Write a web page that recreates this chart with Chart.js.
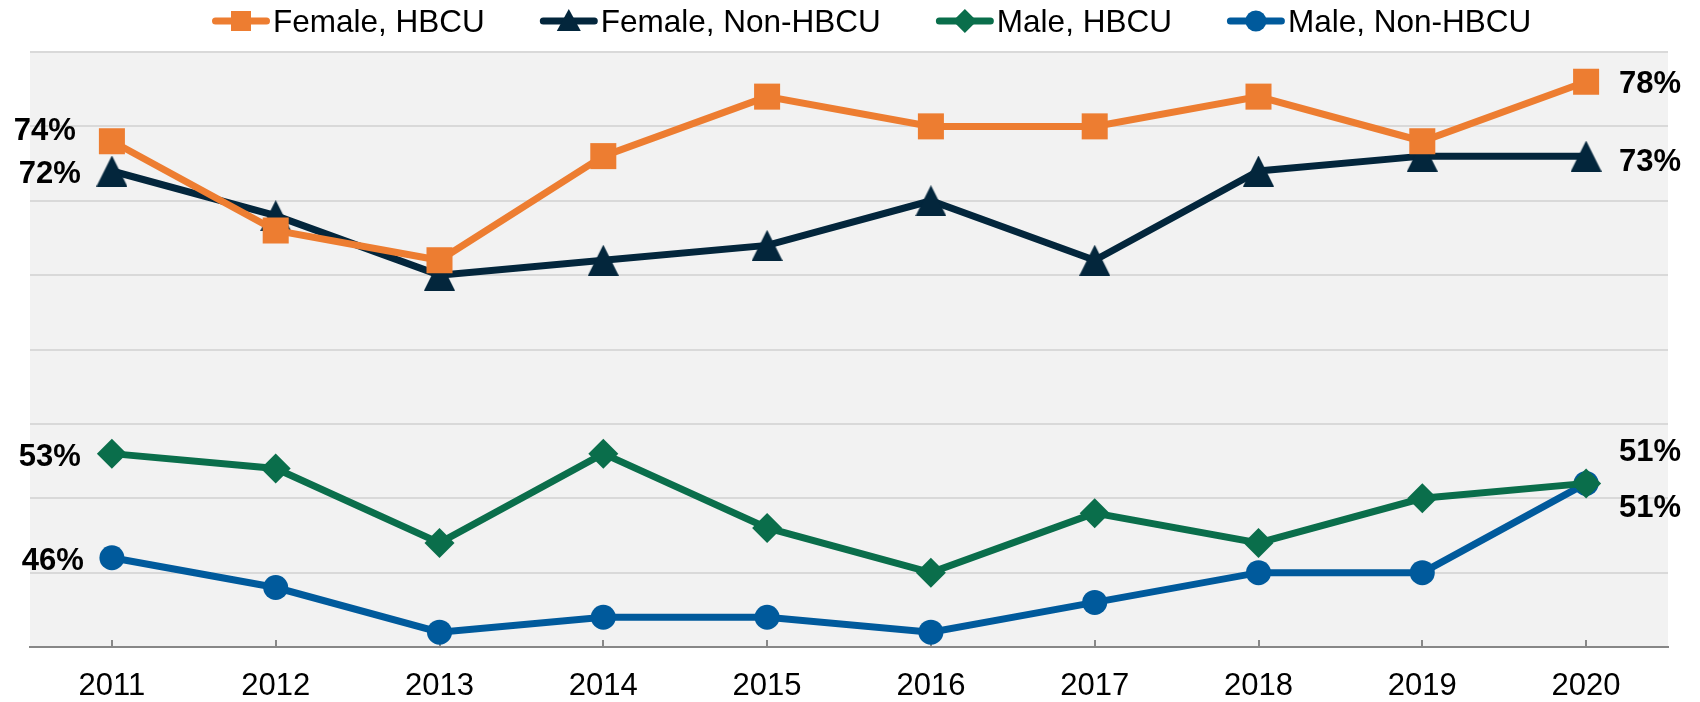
<!DOCTYPE html>
<html>
<head>
<meta charset="utf-8">
<title>HBCU chart</title>
<script src="https://cdn.jsdelivr.net/npm/chart.js@4.4.1/dist/chart.umd.min.js"></script>
<style>
  body { margin: 0; background: #fff; }
  #wrap { width: 1700px; height: 702px; }
</style>
</head>
<body>
<div id="wrap"><canvas id="myChart"></canvas></div>
<script>
// values (percent)
const years = ['2011', '2012', '2013', '2014', '2015', '2016', '2017', '2018', '2019', '2020'];
const femaleHbcu = [74, 68, 66, 73, 77, 75, 75, 77, 74, 78];
const femaleNonHbcu = [72, 69, 65, 66, 67, 70, 66, 72, 73, 73];
const maleHbcu = [53, 52, 47, 53, 48, 45, 49, 47, 50, 51];
const maleNonHbcu = [46, 44, 41, 42, 42, 41, 43, 45, 45, 51];
const seriesNames = ['Female, HBCU', 'Female, Non-HBCU', 'Male, HBCU', 'Male, Non-HBCU'];
const yMin = 40;
const yMax = 80;
const yStep = 5;

const FONT = '"Liberation Sans", Arial, sans-serif';
const colors = ['#ED7D31', '#03263C', '#0A6E4B', '#005A9C'];

function triangleMarker(w, h, color) {
  const c = document.createElement('canvas');
  c.width = w;
  c.height = h;
  const g = c.getContext('2d');
  g.fillStyle = color;
  g.beginPath();
  g.moveTo(w / 2, 0);
  g.lineTo(w, h);
  g.lineTo(0, h);
  g.closePath();
  g.fill();
  return c;
}

// grey plot background
const plotBackground = {
  id: 'plotBackground',
  beforeDraw(chart) {
    const {ctx, chartArea} = chart;
    ctx.save();
    ctx.fillStyle = '#F2F2F2';
    ctx.fillRect(chartArea.left, chartArea.top, chartArea.right - chartArea.left, chartArea.bottom - chartArea.top);
    ctx.restore();
  }
};

// first/last value labels: [dx, baseline dy, align]
const labelOffsets = [
  {first: [-36, -1, 'right'], last: [33, 11, 'left']},
  {first: [-31, 12, 'right'], last: [33, 15, 'left']},
  {first: [-31, 12, 'right'], last: [33, -22, 'left']},
  {first: [-28, 12, 'right'], last: [33, 34, 'left']}
];

const endLabels = {
  id: 'endLabels',
  afterDatasetsDraw(chart) {
    const ctx = chart.ctx;
    ctx.save();
    ctx.font = 'bold 31px ' + FONT;
    ctx.fillStyle = '#000';
    ctx.textBaseline = 'alphabetic';
    chart.data.datasets.forEach((ds, i) => {
      const meta = chart.getDatasetMeta(i);
      const ends = [['first', 0], ['last', ds.data.length - 1]];
      ends.forEach(([key, idx]) => {
        const pt = meta.data[idx];
        const [dx, dy, align] = labelOffsets[i][key];
        ctx.textAlign = align;
        ctx.fillText(ds.data[idx] + '%', pt.x + dx, pt.y + dy);
      });
    });
    ctx.restore();
  }
};

function drawLegendMarker(ctx, i, x, y) {
  ctx.fillStyle = colors[i];
  ctx.beginPath();
  if (i === 0) {
    ctx.rect(x - 10, y - 10, 20, 20);
  } else if (i === 1) {
    ctx.moveTo(x, y - 12);
    ctx.lineTo(x + 12, y + 10);
    ctx.lineTo(x - 12, y + 10);
    ctx.closePath();
  } else if (i === 2) {
    ctx.moveTo(x, y - 12);
    ctx.lineTo(x + 12, y);
    ctx.lineTo(x, y + 12);
    ctx.lineTo(x - 12, y);
    ctx.closePath();
  } else {
    ctx.arc(x, y, 10.5, 0, Math.PI * 2);
  }
  ctx.fill();
}

const lineLegend = {
  id: 'lineLegend',
  afterDraw(chart) {
    const ctx = chart.ctx;
    ctx.save();
    ctx.font = '31.5px ' + FONT;
    ctx.textBaseline = 'alphabetic';
    ctx.textAlign = 'left';
    let x = 212;
    const cy = 21;
    chart.data.datasets.forEach((ds, i) => {
      ctx.strokeStyle = colors[i];
      ctx.lineWidth = 7;
      ctx.lineCap = 'round';
      ctx.beginPath();
      ctx.moveTo(x + 3.5, cy);
      ctx.lineTo(x + 54.5, cy);
      ctx.stroke();
      drawLegendMarker(ctx, i, x + 29, cy);
      ctx.fillStyle = '#000';
      ctx.fillText(ds.label, x + 61, 31.5);
      x += 61 + ctx.measureText(ds.label).width + 55;
    });
    ctx.restore();
  }
};

function makeDataset(i, values, pointStyle, radius) {
  return {
    label: seriesNames[i],
    data: values,
    borderColor: colors[i],
    backgroundColor: colors[i],
    borderWidth: 7,
    pointStyle: pointStyle,
    pointRadius: radius,
    pointHoverRadius: radius,
    pointBorderWidth: 0,
    pointBackgroundColor: colors[i],
    tension: 0,
    clip: false
  };
}

function mainEvent() {
  const target = document.querySelector('#myChart');
  const datasets = [
    makeDataset(0, femaleHbcu, 'rect', 18.4),
    makeDataset(1, femaleNonHbcu, triangleMarker(31, 31, colors[1]), 16),
    makeDataset(2, maleHbcu, 'rectRot', 15),
    makeDataset(3, maleNonHbcu, 'circle', 12.5)
  ];

  new Chart(target, {
    type: 'line',
    data: { labels: years, datasets: datasets },
    options: {
      responsive: true,
      maintainAspectRatio: false,
      animation: false,
      layout: { padding: { left: 30, right: 32, top: 52, bottom: -30 } },
      plugins: {
        legend: { display: false },
        tooltip: { enabled: false }
      },
      scales: {
        x: {
          offset: true,
          grid: {
            offset: false,
            drawOnChartArea: false,
            drawTicks: true,
            tickLength: -7,
            color: '#878787',
            lineWidth: 2
          },
          border: { display: true, color: '#878787', width: 2 },
          ticks: {
            color: '#000',
            padding: 30.5,
            maxRotation: 0,
            autoSkip: false,
            font: { family: FONT, size: 31, lineHeight: 1 }
          }
        },
        y: {
          min: yMin,
          max: yMax,
          ticks: { display: false, stepSize: yStep },
          border: { display: false },
          grid: {
            drawTicks: false,
            lineWidth: 2,
            color: (c) => (c.tick && c.tick.value === yMin ? 'rgba(0,0,0,0)' : '#D9D9D9')
          }
        }
      }
    },
    plugins: [plotBackground, endLabels, lineLegend]
  });
}

document.addEventListener('DOMContentLoaded', () => mainEvent());
</script>
</body>
</html>
